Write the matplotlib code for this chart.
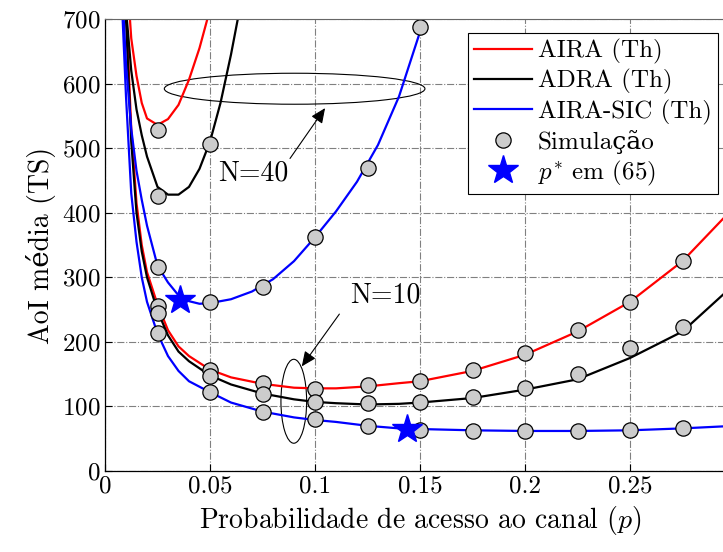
import numpy as np
import matplotlib
matplotlib.use("Agg")
import matplotlib.pyplot as plt
from matplotlib.patches import Ellipse

plt.rcParams['font.family'] = ['cmr10', 'DejaVu Serif']
plt.rcParams['mathtext.fontset'] = 'cm'
plt.rcParams['axes.formatter.use_mathtext'] = True

# theoretical curves, N = 40
p40 = [0.008, 0.010, 0.0125, 0.015, 0.0175, 0.020, 0.025, 0.030, 0.035, 0.040,
       0.045, 0.050, 0.055, 0.060, 0.065]
aira40 = [1000, 790, 670, 612, 570, 546, 536, 545, 567, 606, 655, 715, 790, 870, 960]
adra40 = [900, 715, 620, 560, 520, 487, 440, 428, 428, 440, 468, 510, 570, 645, 730]

p40_sic = [0.008, 0.010, 0.0125, 0.015, 0.0175, 0.020, 0.025, 0.030, 0.035, 0.040,
           0.045, 0.050, 0.060, 0.070, 0.080, 0.090, 0.100, 0.110, 0.120, 0.130,
           0.140, 0.150, 0.155]
sic40 = [760, 630, 530, 465, 420, 380, 318, 292, 272, 263, 259, 260, 266, 278,
         297, 325, 362, 402, 448, 505, 580, 680, 740]

# theoretical curves, N = 10
p10 = [0.008, 0.010, 0.0125, 0.015, 0.0175, 0.020, 0.025, 0.030, 0.035, 0.040,
       0.050, 0.060, 0.075, 0.090, 0.100, 0.110, 0.125, 0.140, 0.150, 0.175,
       0.200, 0.225, 0.250, 0.275, 0.300]
aira10 = [880, 720, 530, 415, 350, 308, 258, 218, 193, 178, 157, 145, 135, 129,
          128, 128, 131, 136, 139, 155, 180, 216, 262, 325, 410]
adra10 = [860, 700, 510, 400, 340, 300, 248, 210, 185, 170, 148, 134, 120, 111,
          107, 105, 103, 104, 106, 113, 126, 142, 175, 216, 290]
sic10 = [730, 580, 430, 355, 300, 262, 213, 178, 155, 139, 122, 106, 92, 83,
         79, 76, 70, 66, 65, 63, 62, 62, 63, 66, 70]

# simulation points
ps40 = [0.025, 0.05]
sim_aira40 = [528]
sim_adra40 = [426, 506]
ps40_sic = [0.025, 0.05, 0.075, 0.1, 0.125, 0.15]
sim_sic40 = [316, 262, 285, 363, 470, 687]

ps10 = [0.025, 0.05, 0.075, 0.1, 0.125, 0.15, 0.175, 0.2, 0.225, 0.25, 0.275]
sim_aira10 = [255, 156, 136, 127, 133, 139, 156, 183, 219, 262, 325]
sim_adra10 = [245, 147, 119, 107, 105, 107, 114, 129, 150, 190, 223]
sim_sic10 = [214, 122, 92, 80, 70, 63, 62, 62, 62, 63, 66]

# optimal access probability from (65)
p_opt = [0.0357, 0.144]
aoi_opt = [265, 65]

xticks = [0, 0.05, 0.1, 0.15, 0.2, 0.25]
xticklabels = ['0', '0.05', '0.1', '0.15', '0.2', '0.25']
yticks = [0, 100, 200, 300, 400, 500, 600, 700]

fig = plt.figure(figsize=(7.23, 5.52), dpi=100)
ax = fig.add_axes([105 / 723, 81 / 552, 630 / 723, 452 / 552])

lw = 1.6
ax.plot(p10, aira10, color='red', lw=lw, label='AIRA (Th)')
ax.plot(p10, adra10, color='black', lw=lw, label='ADRA (Th)')
ax.plot(p10, sic10, color='blue', lw=lw, label='AIRA-SIC (Th)')
ax.plot(p40, aira40, color='red', lw=lw)
ax.plot(p40, adra40, color='black', lw=lw)
ax.plot(p40_sic, sic40, color='blue', lw=lw)

mk = dict(ls='none', marker='o', ms=11, mfc=(0.8, 0.8, 0.8), mec='black', mew=0.9)
ax.plot(ps10, sim_aira10, **mk, label='Simulação')
ax.plot(ps10, sim_adra10, **mk)
ax.plot(ps10, sim_sic10, **mk)
ax.plot(ps40[:1], sim_aira40, **mk)
ax.plot(ps40, sim_adra40, **mk)
ax.plot(ps40_sic, sim_sic40, **mk)

ax.plot(p_opt, aoi_opt, ls='none', marker='*', ms=22, color='blue', mec='blue',
        label=r'$p^{*}$ em (65)')

# group markers
ax.add_patch(Ellipse((0.0903, 592), 0.1241, 48, fill=False, ec='black', lw=0.8))
ax.add_patch(Ellipse((0.0899, 108), 0.01224, 130, fill=False, ec='black', lw=0.8))
arw = dict(arrowstyle='-|>,head_length=0.9,head_width=0.4', color='black', lw=0.8,
           shrinkA=0, shrinkB=0)
ax.annotate('', xy=(0.1048, 562), xytext=(0.0881, 484), arrowprops=arw)
ax.annotate('', xy=(0.0937, 162), xytext=(0.1116, 243), arrowprops=arw)
ax.text(0.0705, 461, 'N=40', fontsize=20, ha='center', va='center')
ax.text(0.1333, 272, 'N=10', fontsize=20, ha='center', va='center')

ax.set_xlim(0, 0.3)
ax.set_ylim(0, 700)
ax.set_xticks(xticks)
ax.set_xticklabels(xticklabels)
ax.set_yticks(yticks)
ax.tick_params(direction='in', length=5, labelsize=18, top=False, right=False)
ax.grid(True, ls='-.', color=(0.5, 0.5, 0.5), lw=0.8)
ax.set_axisbelow(True)
for s in ['left', 'bottom']:
    ax.spines[s].set_linewidth(0.9)
ax.spines['top'].set_color((0.4, 0.4, 0.4))

ax.set_xlabel(r'Probabilidade de acesso ao canal ($p$)', fontsize=20, labelpad=4)
ax.set_ylabel('AoI média (TS)', fontsize=20, labelpad=4)

leg = ax.legend(loc='upper right', bbox_to_anchor=(718 / 723, 1 - 33 / 552),
                bbox_transform=fig.transFigure, borderaxespad=0, fontsize=18,
                fancybox=False, edgecolor='black', framealpha=1,
                handlelength=2.3, handletextpad=0.25, labelspacing=0.2,
                borderpad=0.25)
leg.get_frame().set_linewidth(0.8)

fig.savefig('out.png', dpi=100)
